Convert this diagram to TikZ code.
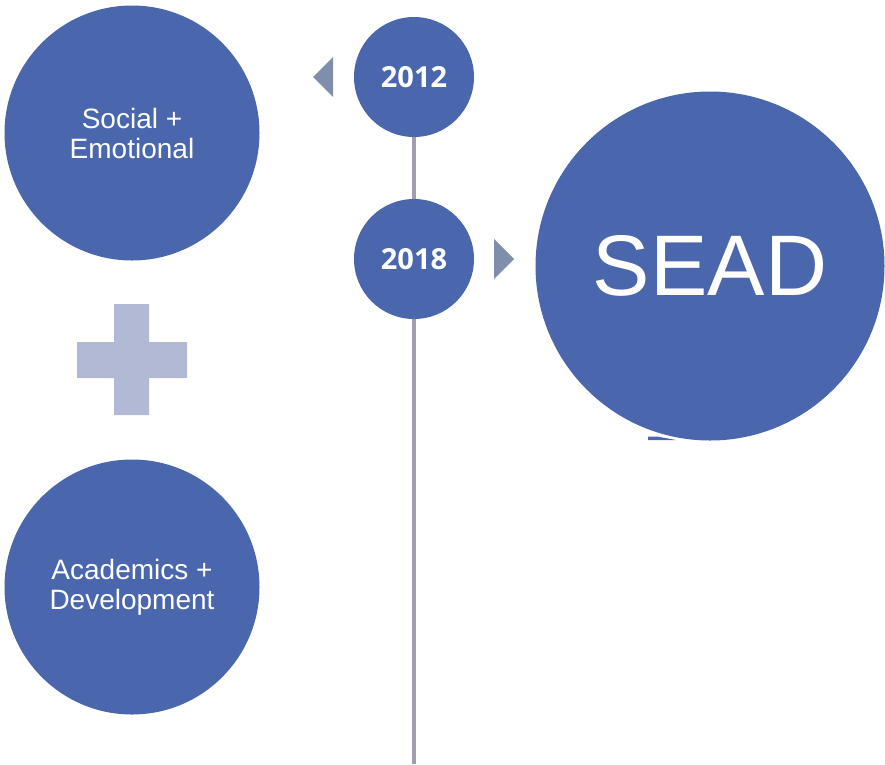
\documentclass[tikz,border=0pt]{standalone}
\usepackage{fontspec}
\setmainfont{Liberation Sans}
\newfontfamily\yearfont{Open Sans}
\usetikzlibrary{backgrounds}
\definecolor{cblue}{HTML}{4A66AC}
\definecolor{ctri}{HTML}{7F8FAB}
\definecolor{cplus}{HTML}{B1B9D4}
\definecolor{cline}{HTML}{A39BB0}
\tikzset{
  bigcirc/.style={circle,fill=cblue,draw=none,inner sep=0pt,minimum size=255pt,
    text=white,align=center,font=\fontsize{28}{30}\selectfont},
  yearcirc/.style={circle,fill=cblue,draw=none,inner sep=0pt,minimum size=120pt,
    text=white,font=\yearfont\bfseries\fontsize{29}{30}\selectfont},
  seadcirc/.style={circle,fill=cblue,draw=none,inner sep=0pt,minimum size=349pt,
    text=white,font=\fontsize{86}{90}\selectfont},
  timeline/.style={draw=cline,line width=4pt},
  tri/.style={fill=ctri,draw=none},
}
\begin{document}
\begin{tikzpicture}[x=1pt,y=-1pt]
\useasboundingbox (0,0) rectangle (885,764);
\coordinate (lineend) at (414,764);
% small sliver under SEAD circle
\fill[cblue] (648,436.5) -- (657,436.5) -- (676,440) -- (648,440) -- cycle;
\node[bigcirc] (se) at (132,133) {Social +\\Emotional};
\node[bigcirc] (ad) at (132,587) {Academics +\\Development};
\node[yearcirc] (y12) at (414,77) {2012};
\node[yearcirc] (y18) at (414,259) {2018};
\node[seadcirc] (sead) at (710,266) {SEAD};
\begin{scope}[on background layer]
  \draw[timeline] (y12.center) -- (lineend);
\end{scope}
% arrow triangles
\fill[tri] (313,77) -- (333,57) -- (333,97) -- cycle;
\fill[tri] (514,259) -- (494,239) -- (494,279) -- cycle;
% plus sign
\fill[cplus] (114,304) -- (149,304) -- (149,342) -- (187,342) -- (187,378) -- (149,378)
  -- (149,415) -- (114,415) -- (114,378) -- (77,378) -- (77,342) -- (114,342) -- cycle;
\end{tikzpicture}
\end{document}
